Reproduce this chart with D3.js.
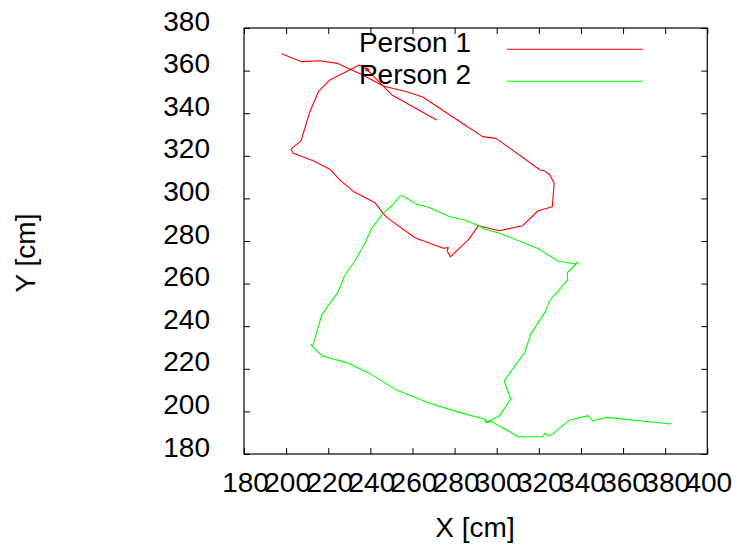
<!DOCTYPE html>
<html>
<head>
<meta charset="utf-8">
<script src="https://cdn.jsdelivr.net/npm/d3@7"></script>
<style>
  html, body { margin: 0; padding: 0; background: #fff; }
  text { font-family: "Liberation Sans", Arial, Helvetica, sans-serif; fill: #000; }
</style>
</head>
<body>
<svg id="chart" width="737" height="547"></svg>
<script>
// ---- data ----
const seriesNames = ["Person 1", "Person 2"];
const seriesColors = ["#ff0000", "#00ff00"];

const person1X = [197.9, 207.4, 216.1, 224.3, 236.6, 246.1, 257.3, 265.1, 282.6, 293.3, 299.7,
  320.6, 322.9, 325.3, 327.3, 326.4, 319.7, 312.3, 301.2, 291.3, 286.5, 278.0, 276.5, 277.0,
  274.6, 261.2, 247.8, 246.1, 242.2, 232.2, 225.6, 220.8, 212.9, 203.4, 202.3, 207.1, 211.3,
  215.3, 220.8, 234.7, 238.3, 237.7, 238.9, 238.4, 239.4, 238.0, 239.2, 237.9, 239.0, 238.3,
  250.3, 271.5];
const person1Y = [367.9, 364.2, 364.6, 363.4, 357.8, 352.8, 350.1, 347.5, 336.0, 329.0, 328.2,
  313.3, 312.9, 311.0, 307.1, 296.1, 294.2, 287.2, 284.8, 287.2, 280.5, 272.6, 275.3, 276.9,
  276.6, 281.5, 291.1, 293.0, 298.0, 303.1, 308.6, 313.7, 317.7, 321.2, 323.1, 327.1, 340.7,
  350.1, 355.6, 362.6, 360.6, 360.0, 361.0, 359.8, 360.3, 361.2, 359.6, 360.4, 360.9, 360.6,
  348.5, 336.8];

const person2X = [382.8, 352.2, 345.6, 343.5, 334.8, 325.3, 322.9, 322.0, 319.0, 310.3, 297.6,
  294.9, 301.2, 306.6, 303.6, 313.4, 316.1, 323.4, 325.0, 333.7, 333.5, 338.7, 337.2, 329.0,
  320.2, 301.6, 294.4, 291.3, 284.9, 277.8, 267.0, 262.0, 255.6, 254.1, 250.6, 246.1, 240.6,
  237.5, 233.5, 227.5, 224.8, 216.9, 212.6, 211.7, 212.6, 217.2, 228.8, 239.0, 252.5, 268.3,
  281.0, 294.4, 294.9, 294.7, 295.4, 294.9, 295.2, 294.6];
const person2Y = [194.1, 197.2, 195.5, 198.0, 196.0, 188.5, 189.7, 188.2, 188.1, 188.1, 195.2,
  194.8, 197.8, 205.7, 214.4, 227.9, 236.3, 247.3, 251.8, 261.7, 265.1, 270.1, 269.2, 270.6,
  276.2, 283.6, 285.5, 287.2, 289.9, 291.4, 296.1, 297.2, 301.1, 301.1, 296.9, 293.0, 286.0,
  279.2, 271.9, 263.2, 256.2, 245.3, 230.4, 231.6, 230.4, 226.0, 222.9, 218.2, 210.0, 203.8,
  199.9, 196.3, 194.6, 195.5, 195.0, 196.0, 194.9, 195.7];

const xTicks = [180, 200, 220, 240, 260, 280, 300, 320, 340, 360, 380, 400];
const yTicks = [180, 200, 220, 240, 260, 280, 300, 320, 340, 360, 380];
const xLabel = "X [cm]";
const yLabel = "Y [cm]";

// ---- layout ----
const svg = d3.select("#chart");
const plotL = 244, plotR = 707.3, plotT = 28, plotB = 454;

const x = d3.scaleLinear().domain([180, 400]).range([plotL, plotR]);
const y = d3.scaleLinear().domain([180, 380]).range([plotB, plotT]);

const fontSize = 28;
const tickLen = 6;

// axes (inward ticks)
const gx = svg.append("g").attr("transform", `translate(0,${plotB})`)
  .call(d3.axisBottom(x).tickValues(xTicks).tickSize(-tickLen).tickFormat(d3.format("d")));
gx.selectAll("text").attr("y", 38).attr("dy", 0).attr("x", 1);

const gy = svg.append("g").attr("transform", `translate(${plotL},0)`)
  .call(d3.axisLeft(y).tickValues(yTicks).tickSize(-tickLen).tickPadding(34).tickFormat(d3.format("d")));
gy.selectAll("text").attr("dy", 0).attr("y", 2);

svg.append("g").attr("transform", `translate(0,${plotT})`)
  .call(d3.axisTop(x).tickValues(xTicks).tickSize(-tickLen).tickFormat(""));
svg.append("g").attr("transform", `translate(${plotR},0)`)
  .call(d3.axisRight(y).tickValues(yTicks).tickSize(-tickLen).tickFormat(""));

svg.selectAll(".domain").remove();
svg.selectAll(".tick line").attr("stroke", "#000").attr("stroke-width", 1);
svg.selectAll(".tick text")
  .style("font-size", fontSize + "px")
  .style("font-family", "'Liberation Sans', Arial, Helvetica, sans-serif")
  .attr("fill", "#000");

// frame
svg.append("rect")
  .attr("x", plotL).attr("y", plotT)
  .attr("width", plotR - plotL).attr("height", plotB - plotT)
  .attr("fill", "none").attr("stroke", "#000").attr("stroke-width", 1.2);

// series
const line = d3.line().x(d => x(d[0])).y(d => y(d[1]));
const series = [
  d3.zip(person1X, person1Y),
  d3.zip(person2X, person2Y)
];
series.forEach((pts, i) => {
  svg.append("path")
    .attr("d", line(pts))
    .attr("fill", "none")
    .attr("stroke", seriesColors[i])
    .attr("stroke-width", 1.1)
    .attr("stroke-linejoin", "round");
});

// legend
seriesNames.forEach((name, i) => {
  const by = 52 + i * 32;
  svg.append("text")
    .attr("x", 471).attr("y", by)
    .attr("text-anchor", "end")
    .style("font-size", fontSize + "px")
    .text(name);
  svg.append("line")
    .attr("x1", 506.7).attr("x2", 642.7)
    .attr("y1", by - 2.7).attr("y2", by - 2.7)
    .attr("stroke", seriesColors[i]).attr("stroke-width", 1.1);
});

// axis titles
svg.append("text")
  .attr("x", 475).attr("y", 537)
  .attr("text-anchor", "middle")
  .style("font-size", fontSize + "px")
  .text(xLabel);

svg.append("text")
  .attr("transform", "translate(35,253) rotate(-90)")
  .attr("text-anchor", "middle")
  .style("font-size", fontSize + "px")
  .text(yLabel);
</script>
</body>
</html>
